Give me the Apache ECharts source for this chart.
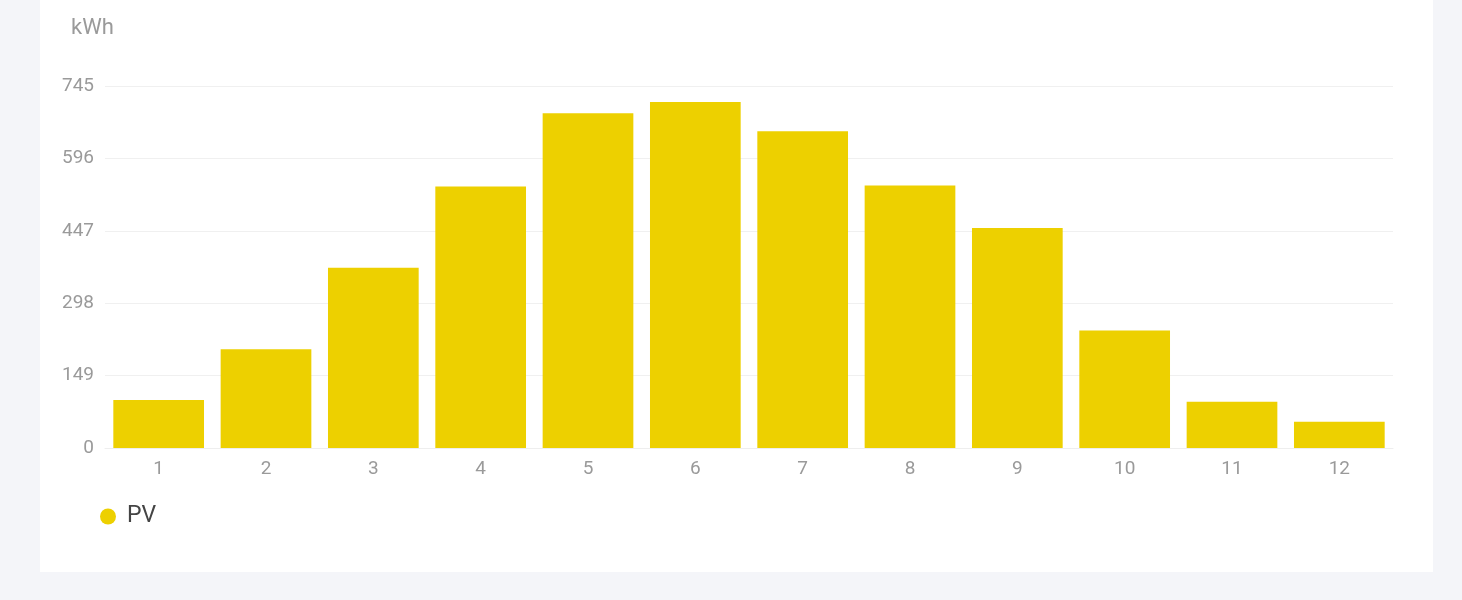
<!DOCTYPE html>
<html>
<head>
<meta charset="utf-8">
<script src="https://cdn.jsdelivr.net/npm/echarts@6/dist/echarts.min.js"></script>
<style>
html,body{margin:0;padding:0;width:1462px;height:600px;background:#f4f5f9;overflow:hidden;}
#panel{position:absolute;left:40px;top:0;width:1393px;height:572px;background:#ffffff;}
#chart{width:1393px;height:572px;}
</style>
</head>
<body>
<div id="panel"><div id="chart"></div></div>
<script>
const categories = ['1','2','3','4','5','6','7','8','9','10','11','12'];
const pvValues = [99, 203, 371, 538, 689, 712, 652, 540, 453, 242, 95, 54];
const yTicks = [0, 149, 298, 447, 596, 745];
const unitLabel = 'kWh';
const seriesName = 'PV';

const chart = echarts.init(document.getElementById('chart'));
chart.setOption({
  animation: false,
  textStyle: { fontFamily: 'Roboto' },
  title: {
    text: unitLabel,
    left: 26,
    top: 12,
    textStyle: { fontSize: 22, fontWeight: 'normal', color: '#9a9a9a', fontFamily: 'Roboto' }
  },
  legend: {
    data: [seriesName],
    left: 55,
    top: 500,
    icon: 'circle',
    itemWidth: 16,
    itemHeight: 16,
    textStyle: { fontSize: 23, color: '#444444', padding: [0, 0, 0, 6], fontFamily: 'Roboto' }
  },
  grid: { left: 65, right: 40, top: 86, bottom: 124, containLabel: false },
  xAxis: {
    type: 'category',
    data: categories,
    axisLine: { lineStyle: { color: '#eeeeee' } },
    axisTick: { show: false },
    axisLabel: { fontSize: 19, color: '#9a9a9a', margin: 12 }
  },
  yAxis: {
    type: 'value',
    min: yTicks[0],
    max: yTicks[yTicks.length - 1],
    interval: yTicks[1] - yTicks[0],
    axisLine: { show: false },
    axisTick: { show: false },
    splitLine: { lineStyle: { color: '#f0f0f0' } },
    axisLabel: { fontSize: 19, color: '#9a9a9a', margin: 11 }
  },
  series: [{
    name: seriesName,
    type: 'bar',
    data: pvValues,
    barCategoryGap: '15.5%',
    itemStyle: { color: '#EDD000' }
  }]
});
</script>
</body>
</html>
